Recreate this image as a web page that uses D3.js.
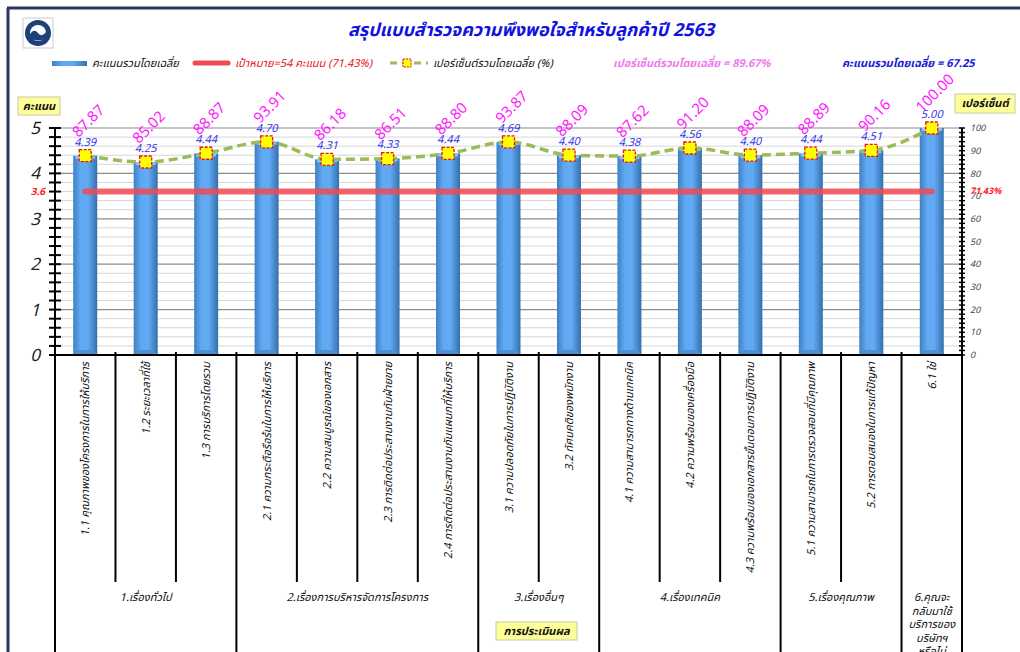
<!DOCTYPE html>
<html>
<head>
<meta charset="utf-8">
<script src="https://cdn.jsdelivr.net/npm/d3@7"></script>
<style>
  html, body { margin: 0; padding: 0; background: #fff; }
  svg { display: block; font-family: Tahoma, 'Noto Sans Thai', 'Noto Sans', 'DejaVu Sans', sans-serif; }
</style>
</head>
<body>
<div id="chart"></div>
<script>
// ข้อมูลจากแบบสำรวจ
const categories = [
  '1.1 คุณภาพของโครงการในการให้บริการ',
  '1.2 ระยะเวลาที่ใช้',
  '1.3 การบริการโดยรวม',
  '2.1 ความกระตือรือร้นในการให้บริการ',
  '2.2 ความสมบูรณ์ของเอกสาร',
  '2.3 การติดต่อประสานงานกับฝ่ายขาย',
  '2.4 การติดต่อประสานงานกับแผนกที่ให้บริการ',
  '3.1 ความปลอดภัยในการปฏิบัติงาน',
  '3.2 ทัศนคติของพนักงาน',
  '4.1 ความสามารถทางด้านเทคนิค',
  '4.2 ความพร้อมของเครื่องมือ',
  '4.3 ความพร้อมของเอกสารขั้นตอนการปฏิบัติงาน',
  '5.1 ความสามารถในการตรวจสอบที่มีคุณภาพ',
  '5.2 การตอบสนองในการแก้ปัญหา',
  '6.1 ใช่'
];
const scores = [4.39, 4.25, 4.44, 4.70, 4.31, 4.33, 4.44, 4.69, 4.40, 4.38, 4.56, 4.40, 4.44, 4.51, 5.00];
const percents = [87.87, 85.02, 88.87, 93.91, 86.18, 86.51, 88.80, 93.87, 88.09, 87.62, 91.20, 88.09, 88.89, 90.16, 100.00];
const groupNames = [
  ['1.เรื่องทั่วไป'],
  ['2.เรื่องการบริหารจัดการโครงการ'],
  ['3.เรื่องอื่นๆ'],
  ['4.เรื่องเทคนิค'],
  ['5.เรื่องคุณภาพ'],
  ['6.คุณจะ', 'กลับมาใช้', 'บริการของ', 'บริษัทฯ', 'หรือไม่']
];
const groupSizes = [3, 4, 2, 3, 2, 1];
const targetScore = 3.6;
const targetPctLabel = '71.43%';
const scoreTicks = [0, 1, 2, 3, 4, 5];
const pctTicks = [0, 10, 20, 30, 40, 50, 60, 70, 80, 90, 100];

const W = 1020, H = 652;
const plot = { left: 55, right: 962, top: 128, bottom: 355 };

const svg = d3.select('#chart').append('svg')
  .attr('width', W).attr('height', H);

const defs = svg.append('defs');
const grad = defs.append('linearGradient').attr('id', 'barGrad')
  .attr('x1', '0%').attr('x2', '100%').attr('y1', '0%').attr('y2', '0%');
grad.append('stop').attr('offset', '0%').attr('stop-color', '#3f7fc2');
grad.append('stop').attr('offset', '30%').attr('stop-color', '#5fa8f2');
grad.append('stop').attr('offset', '60%').attr('stop-color', '#62aaf4');
grad.append('stop').attr('offset', '100%').attr('stop-color', '#3470ad');

// กรอบ
svg.append('line').attr('x1', 7).attr('x2', W).attr('y1', 8).attr('y2', 8)
  .attr('stroke', '#2b3566').attr('stroke-width', 3);
svg.append('line').attr('x1', 8).attr('x2', 8).attr('y1', 8).attr('y2', H)
  .attr('stroke', '#2b3566').attr('stroke-width', 3);

// โลโก้
const logo = svg.append('g').attr('transform', 'translate(23,18)');
logo.append('rect').attr('width', 30).attr('height', 30).attr('fill', '#fff').attr('stroke', '#ccc');
logo.append('circle').attr('cx', 15).attr('cy', 15).attr('r', 13).attr('fill', '#1d3f7a');
logo.append('circle').attr('cx', 15).attr('cy', 15).attr('r', 8).attr('fill', '#fff');
logo.append('path').attr('d', 'M7,16 Q11,10 15,15 T23,14 L23,20 Q15,25 7,20 Z').attr('fill', '#1d3f7a');

// หัวเรื่อง
svg.append('text').attr('x', 531).attr('y', 36).attr('text-anchor', 'middle')
  .attr('font-size', 18).attr('font-weight', 'bold').attr('font-style', 'italic')
  .attr('fill', '#1212e0').text('สรุปแบบสำรวจความพึงพอใจสำหรับลูกค้าปี 2563');

// scales
const x = d3.scaleBand().domain(categories).range([plot.left, plot.right]).padding(0);
const y = d3.scaleLinear().domain([0, 5]).range([plot.bottom, plot.top]);
const yP = d3.scaleLinear().domain([0, 100]).range([plot.bottom, plot.top]);
const cx = d => x(d) + x.bandwidth() / 2;

// gridlines
const minorVals = d3.range(0, 5.0001, 0.2);
svg.append('g').selectAll('line').data(minorVals).join('line')
  .attr('x1', plot.left).attr('x2', plot.right)
  .attr('y1', d => y(d)).attr('y2', d => y(d))
  .attr('stroke', d => Math.abs(d - Math.round(d)) < 1e-6 ? '#8c8c8c' : '#d6d6d6')
  .attr('stroke-width', d => Math.abs(d - Math.round(d)) < 1e-6 ? 1.2 : 1);

// bars
const bw = 24;
const bars = svg.append('g');
bars.selectAll('rect.bar').data(categories).join('rect').attr('class', 'bar')
  .attr('x', d => cx(d) - bw / 2).attr('width', bw)
  .attr('y', (d, i) => y(scores[i])).attr('height', (d, i) => y(0) - y(scores[i]))
  .attr('fill', 'url(#barGrad)');
// top highlight
bars.selectAll('rect.top').data(categories).join('rect').attr('class', 'top')
  .attr('x', d => cx(d) - bw / 2 + 2).attr('width', bw - 4)
  .attr('y', (d, i) => y(scores[i])).attr('height', 3)
  .attr('fill', '#9fd0ff').attr('opacity', 0.8);
// bottom bevel
bars.selectAll('path.bev').data(categories).join('path').attr('class', 'bev')
  .attr('d', d => {
    const l = cx(d) - bw / 2, r = cx(d) + bw / 2, b = y(0);
    return `M${l},${b} L${l + 5},${b - 5} L${r - 5},${b - 5} L${r},${b} Z`;
  })
  .attr('fill', '#4f8fd0');

// target line
svg.append('line')
  .attr('x1', cx(categories[0])).attr('x2', cx(categories[categories.length - 1]))
  .attr('y1', y(targetScore)).attr('y2', y(targetScore))
  .attr('stroke', '#f04a52').attr('stroke-opacity', 0.85)
  .attr('stroke-width', 6).attr('stroke-linecap', 'round');

// percent line
const line = d3.line().x((d, i) => cx(categories[i])).y(d => yP(d)).curve(d3.curveMonotoneX);
svg.append('path').datum(percents).attr('d', line)
  .attr('fill', 'none').attr('stroke', '#9bbb59').attr('stroke-width', 3.5)
  .attr('stroke-dasharray', '9,5');

svg.append('g').selectAll('rect').data(percents).join('rect')
  .attr('x', (d, i) => cx(categories[i]) - 6).attr('y', d => yP(d) - 6)
  .attr('width', 12).attr('height', 12)
  .attr('fill', '#ffff00').attr('stroke', '#e8141c').attr('stroke-width', 1.3)
  .attr('stroke-dasharray', '3,1.5');

// score labels
svg.append('g').selectAll('text').data(scores).join('text')
  .attr('x', (d, i) => cx(categories[i])).attr('y', d => y(d) - 10)
  .attr('text-anchor', 'middle').attr('font-size', 11).attr('font-style', 'italic')
  .attr('fill', '#3535e8').text(d => d.toFixed(2));

// percent labels (rotated)
svg.append('g').selectAll('text').data(percents).join('text')
  .attr('transform', (d, i) => `translate(${cx(categories[i]) + 3},${y(scores[i]) - 35}) rotate(-45)`)
  .attr('text-anchor', 'middle').attr('dy', '0.35em').attr('font-size', 15)
  .attr('fill', '#ff1aff').text(d => d.toFixed(2));

// left axis
const leftAxis = svg.append('g');
leftAxis.append('line').attr('x1', plot.left).attr('x2', plot.left)
  .attr('y1', plot.top).attr('y2', plot.bottom).attr('stroke', '#000').attr('stroke-width', 2);
leftAxis.selectAll('line.t').data(minorVals).join('line').attr('class', 't')
  .attr('x1', plot.left - 6).attr('x2', plot.left + 6)
  .attr('y1', d => y(d)).attr('y2', d => y(d)).attr('stroke', '#000').attr('stroke-width', 2);
leftAxis.selectAll('text').data(scoreTicks).join('text')
  .attr('x', 40).attr('y', d => y(d)).attr('dy', '0.35em').attr('text-anchor', 'end')
  .attr('font-size', 17).attr('font-style', 'italic').attr('fill', '#222').text(d => d);
svg.append('text').attr('x', 45).attr('y', y(targetScore)).attr('dy', '0.35em')
  .attr('text-anchor', 'end').attr('font-size', 10).attr('font-weight', 'bold')
  .attr('font-style', 'italic').attr('fill', '#ff2020').text(targetScore);

// right axis
const rightAxis = svg.append('g');
rightAxis.append('line').attr('x1', plot.right).attr('x2', plot.right)
  .attr('y1', plot.top).attr('y2', plot.bottom).attr('stroke', '#000').attr('stroke-width', 2);
rightAxis.selectAll('line.t').data(d3.range(0, 100.001, 2)).join('line').attr('class', 't')
  .attr('x1', plot.right - 3).attr('x2', plot.right + 3)
  .attr('y1', d => yP(d)).attr('y2', d => yP(d)).attr('stroke', '#000').attr('stroke-width', 1.5);
rightAxis.selectAll('text').data(pctTicks).join('text')
  .attr('x', 970).attr('y', d => yP(d)).attr('dy', '0.35em')
  .attr('font-size', 9).attr('font-style', 'italic').attr('fill', '#444').text(d => d);
svg.append('text').attr('x', 970).attr('y', yP(71.43) - 2).attr('dy', '0.35em')
  .attr('font-size', 9).attr('font-weight', 'bold').attr('font-style', 'italic')
  .attr('fill', '#ff2020').text(targetPctLabel);

// yellow boxes
function yellowBox(x0, y0, w, h, label) {
  svg.append('rect').attr('x', x0).attr('y', y0).attr('width', w).attr('height', h)
    .attr('fill', '#ffff99').attr('stroke', '#c8c8a0');
  svg.append('text').attr('x', x0 + w / 2).attr('y', y0 + h / 2).attr('dy', '0.35em')
    .attr('text-anchor', 'middle').attr('font-size', 11).attr('font-weight', 'bold')
    .attr('font-style', 'italic').attr('fill', '#111').text(label);
}
yellowBox(18, 97, 42, 18, 'คะแนน');
yellowBox(955, 94, 60, 19, 'เปอร์เซ็นต์');
yellowBox(496, 622, 81, 18, 'การประเมินผล');

// x axis with group structure
svg.append('line').attr('x1', plot.left).attr('x2', plot.right)
  .attr('y1', plot.bottom).attr('y2', plot.bottom).attr('stroke', '#000').attr('stroke-width', 2);

let idx = 0;
const groupBounds = [];
groupSizes.forEach((n, g) => {
  groupBounds.push([idx, idx + n]);
  idx += n;
});
const groupStarts = new Set(groupBounds.map(b => b[0]));
const boundaries = d3.range(0, categories.length + 1);
svg.append('g').selectAll('line').data(boundaries).join('line')
  .attr('x1', i => plot.left + i * x.bandwidth()).attr('x2', i => plot.left + i * x.bandwidth())
  .attr('y1', plot.bottom - 3)
  .attr('y2', i => (groupStarts.has(i) || i === categories.length) ? H : 582)
  .attr('stroke', '#000').attr('stroke-width', 2);

svg.append('g').selectAll('text').data(categories).join('text')
  .attr('transform', d => `translate(${cx(d) + 4},${plot.bottom + 7}) rotate(-90)`)
  .attr('text-anchor', 'end').attr('font-size', 11).attr('font-style', 'italic')
  .attr('fill', '#111').text(d => d);

groupBounds.forEach((b, g) => {
  const mid = plot.left + (b[0] + b[1]) / 2 * x.bandwidth();
  const t = svg.append('text').attr('x', mid).attr('y', 601)
    .attr('text-anchor', 'middle').attr('font-size', 11).attr('font-style', 'italic').attr('fill', '#111');
  groupNames[g].forEach((s, k) => {
    t.append('tspan').attr('x', mid).attr('dy', k === 0 ? 0 : 13.5).text(s);
  });
});

// legend
const lg = svg.append('g');
lg.append('rect').attr('x', 52).attr('y', 61).attr('width', 35).attr('height', 5).attr('fill', 'url(#barGrad)');
lg.append('text').attr('x', 92).attr('y', 67).attr('font-size', 11).attr('font-style', 'italic')
  .attr('fill', '#111').text('คะแนนรวมโดยเฉลี่ย');
lg.append('line').attr('x1', 195).attr('x2', 228).attr('y1', 63).attr('y2', 63)
  .attr('stroke', '#f04a52').attr('stroke-width', 5).attr('stroke-linecap', 'round');
lg.append('text').attr('x', 235).attr('y', 67).attr('font-size', 11).attr('font-style', 'italic')
  .attr('fill', '#e8141c').text('เป้าหมาย=54 คะแนน (71.43%)');
lg.append('line').attr('x1', 390).attr('x2', 428).attr('y1', 63).attr('y2', 63)
  .attr('stroke', '#9bbb59').attr('stroke-width', 3).attr('stroke-dasharray', '7,5');
lg.append('rect').attr('x', 403).attr('y', 59).attr('width', 8).attr('height', 8)
  .attr('fill', '#ffff00').attr('stroke', '#e8141c').attr('stroke-dasharray', '2,1');
lg.append('text').attr('x', 433).attr('y', 67).attr('font-size', 11).attr('font-style', 'italic')
  .attr('fill', '#111').text('เปอร์เซ็นต์รวมโดยเฉลี่ย (%)');
lg.append('text').attr('x', 613).attr('y', 67).attr('font-size', 11).attr('font-weight', 'bold')
  .attr('font-style', 'italic').attr('fill', '#ee7bee').text('เปอร์เซ็นต์รวมโดยเฉลี่ย = 89.67%');
lg.append('text').attr('x', 842).attr('y', 67).attr('font-size', 11).attr('font-weight', 'bold')
  .attr('font-style', 'italic').attr('fill', '#1a1ad8').text('คะแนนรวมโดยเฉลี่ย = 67.25');
</script>
</body>
</html>
